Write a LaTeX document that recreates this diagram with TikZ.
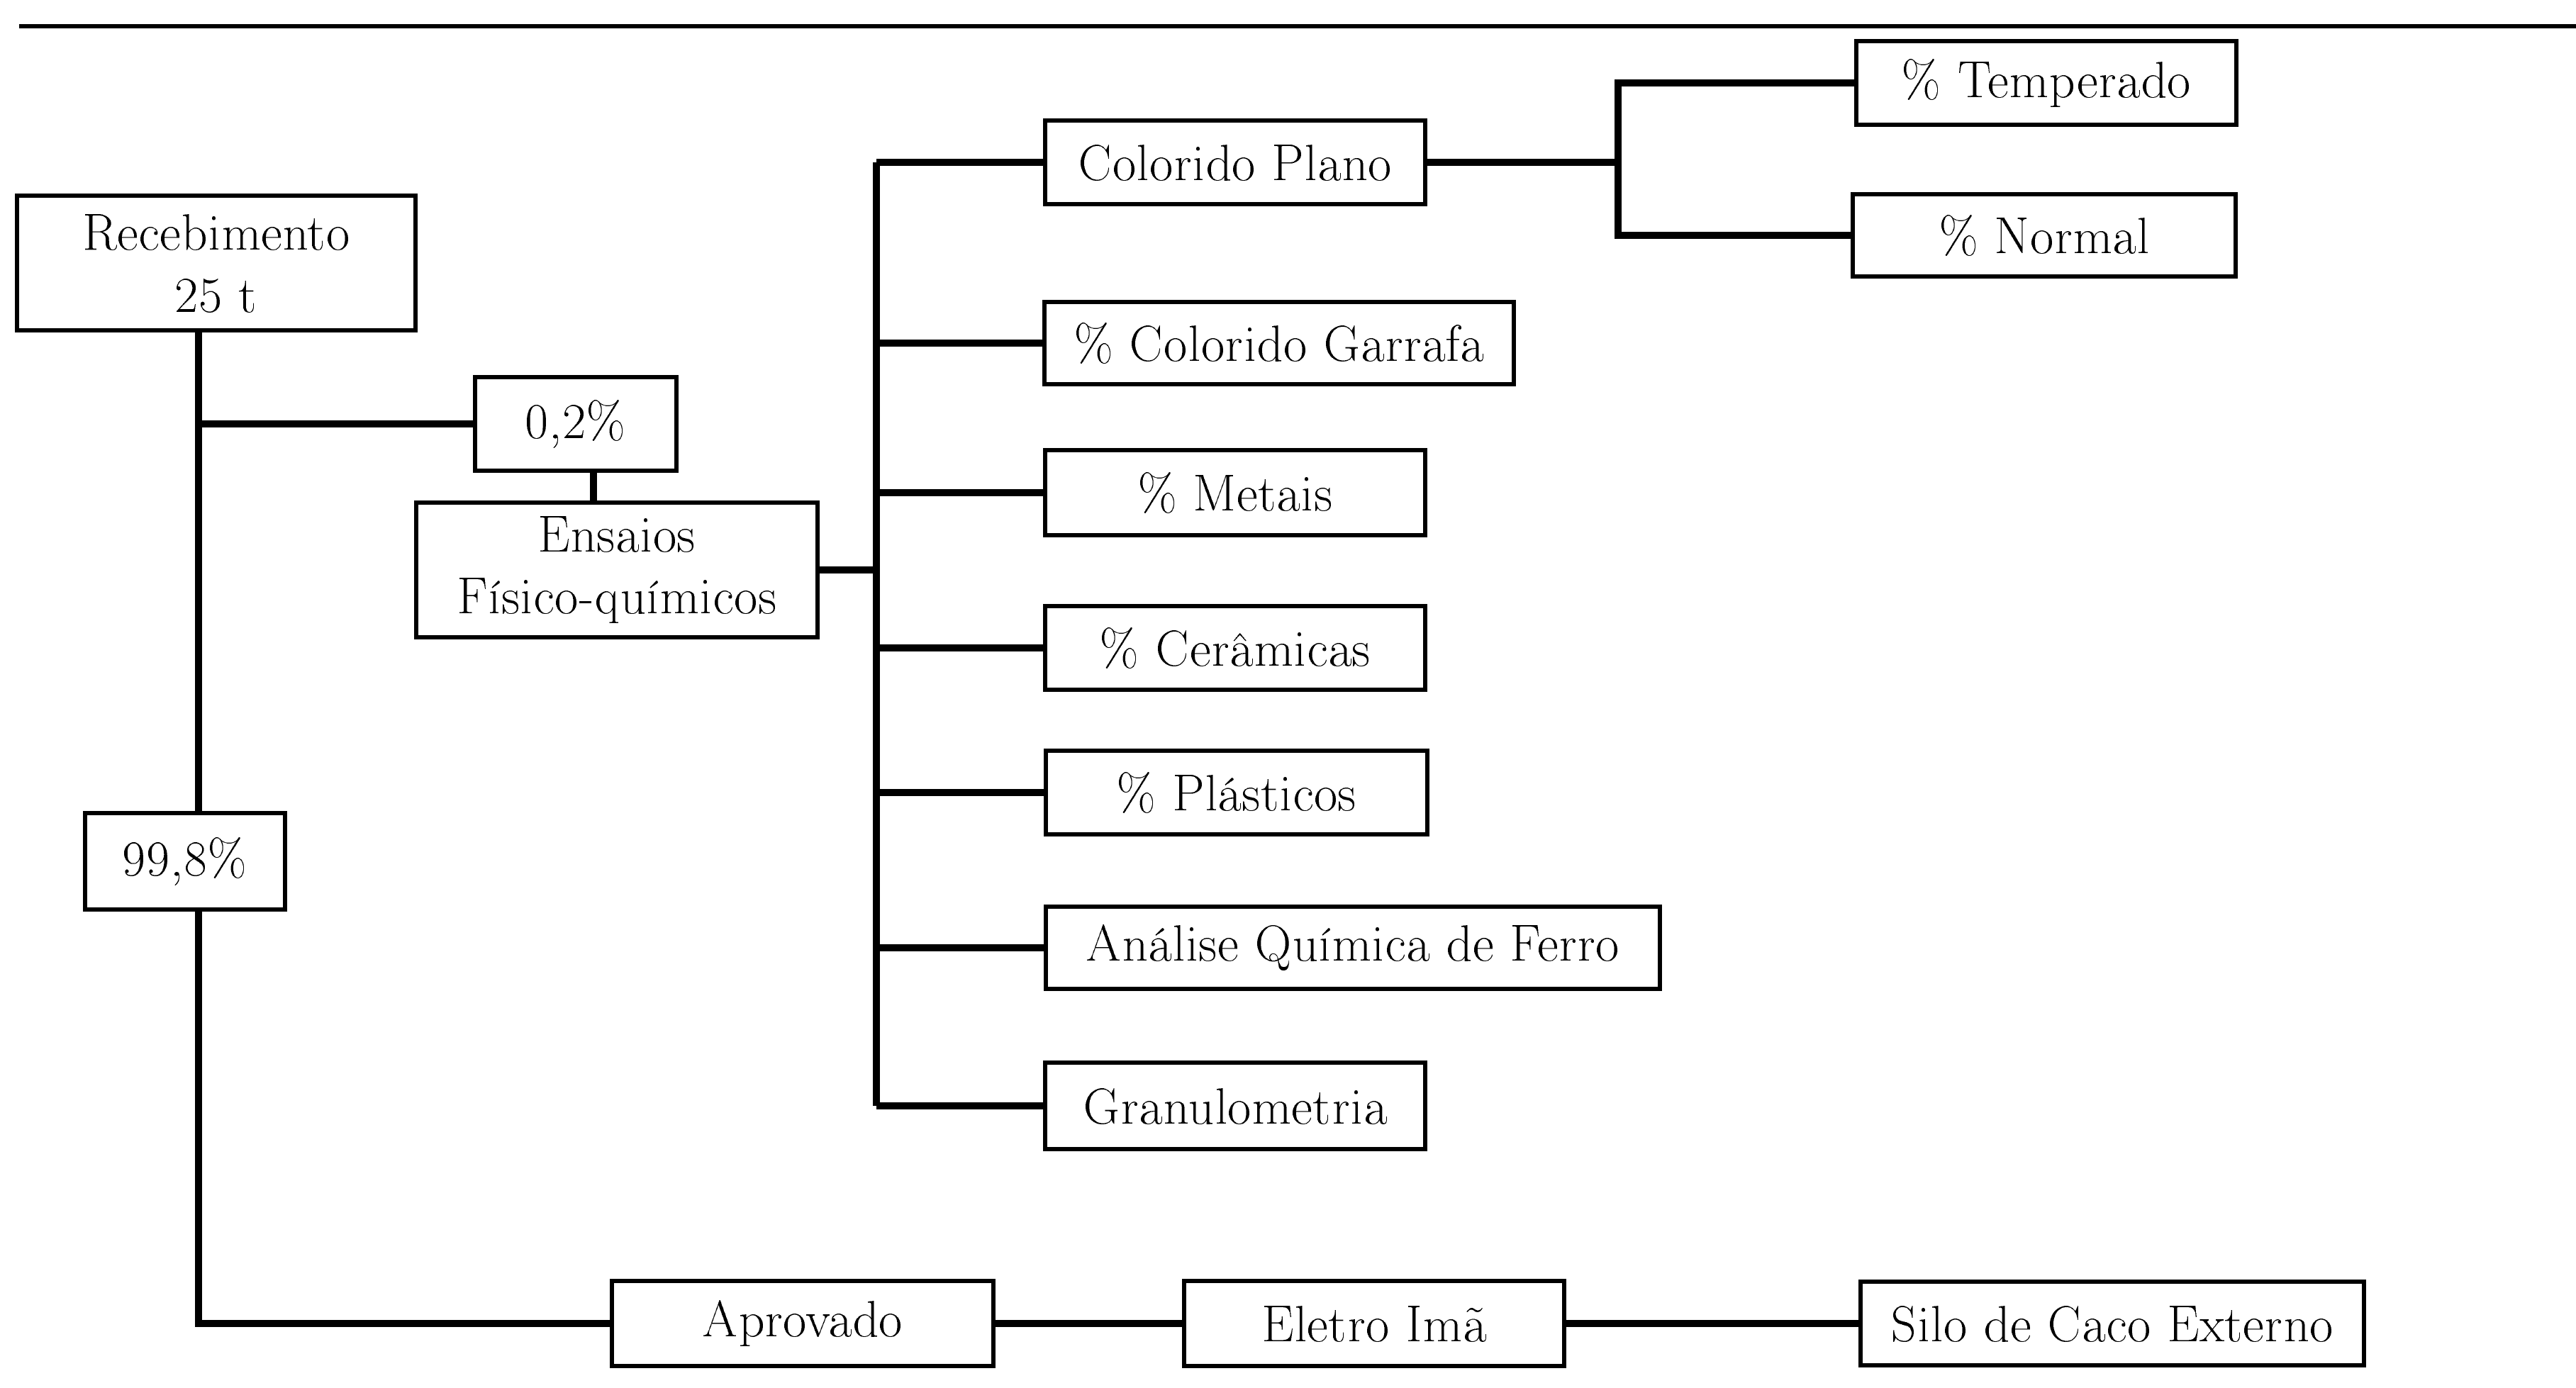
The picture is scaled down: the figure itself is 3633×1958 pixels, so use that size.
\documentclass[tikz,border=0pt]{standalone}
\usepackage[T1]{fontenc}
\usetikzlibrary{positioning}
\tikzset {
  % path style for the tree connectors
  link/.style = {
    draw = black,
    line width = 2.7pt
  },
  % thin horizontal rule at the top
  rule/.style = {
    draw = black,
    line width = 1.7pt
  }
}
\tikzset {
  % boxed step of the process
  stepbox/.style = {
    draw = black,
    rectangle,
    line width = 1.7pt,
    inner sep = 0,
    align = center,
    font = \fontsize{21}{25}\selectfont
  },
  % share of the load
  share/.style = {
    stepbox
  }
}

\begin{document}
\begin{tikzpicture}[x=0.01cm, y=-0.01cm]
    \useasboundingbox (0,0) rectangle (3633,1958);
    \draw[rule] (27,37) -- (3633,37);

    \node[stepbox, minimum width=5.61cm, minimum height=1.90cm] (rec) at (305,371) {Recebimento\\25 t};
    \node[share, minimum width=2.84cm, minimum height=1.31cm] (small) at (812,598) {0,2\%};
    \node[stepbox, minimum width=5.66cm, minimum height=1.90cm] (ensaios) at (870,804) {Ensaios\\Físico-químicos};
    \node[share, minimum width=2.82cm, minimum height=1.35cm] (large) at (261,1215) {99,8\%};

    \node[stepbox, minimum width=5.36cm, minimum height=1.18cm] (plano) at (1742,229) {Colorido Plano};
    \node[stepbox, minimum width=6.61cm, minimum height=1.16cm] (garrafa) at (1804,484) {\% Colorido Garrafa};
    \node[stepbox, minimum width=5.36cm, minimum height=1.19cm] (metais) at (1742,695) {\% Metais};
    \node[stepbox, minimum width=5.36cm, minimum height=1.18cm] (ceramicas) at (1742,914) {\% Cerâmicas};
    \node[stepbox, minimum width=5.38cm, minimum height=1.18cm] (plasticos) at (1744,1118) {\% Plásticos};
    \node[stepbox, minimum width=8.66cm, minimum height=1.16cm] (ferro) at (1908,1337) {Análise Química de Ferro};
    \node[stepbox, minimum width=5.35cm, minimum height=1.21cm] (granulo) at (1742,1560) {Granulometria};

    \node[stepbox, minimum width=5.36cm, minimum height=1.18cm] (temperado) at (2886,117) {\% Temperado};
    \node[stepbox, minimum width=5.39cm, minimum height=1.16cm] (normal) at (2883,332) {\% Normal};

    \node[stepbox, minimum width=5.37cm, minimum height=1.19cm] (aprovado) at (1132,1867) {Aprovado};
    \node[stepbox, minimum width=5.35cm, minimum height=1.19cm] (eletro) at (1938,1867) {Eletro Imã};
    \node[stepbox, minimum width=7.09cm, minimum height=1.18cm] (silo) at (2979,1867) {Silo de Caco Externo};

    \coordinate (spine) at (280,0);
    \coordinate (stem) at (837,0);
    \coordinate (bus) at (1236,0);
    \coordinate (fork) at (2282,0);

    \draw[link] (rec.south -| spine) -- (large.north -| spine);
    \draw[link] (small.west -| spine) -- (small.west);
    \draw[link] (small.south -| stem) -- (ensaios.north -| stem);
    \draw[link] (large.south -| spine) |- (aprovado.west);
    \draw[link] (aprovado) -- (eletro) -- (silo);

    \draw[link] (ensaios.east) -- (ensaios.east -| bus);
    \draw[link] (bus |- plano.west) -- (bus |- granulo.west);
    \foreach \n in {plano, garrafa, metais, ceramicas, plasticos, ferro, granulo}
      \draw[link] (bus |- \n.west) -- (\n.west);

    \draw[link] (plano.east) -- (plano.east -| fork);
    \draw[link] (temperado.west) -- (temperado.west -| fork) -- (normal.west -| fork) -- (normal.west);
  \end{tikzpicture}
\end{document}
